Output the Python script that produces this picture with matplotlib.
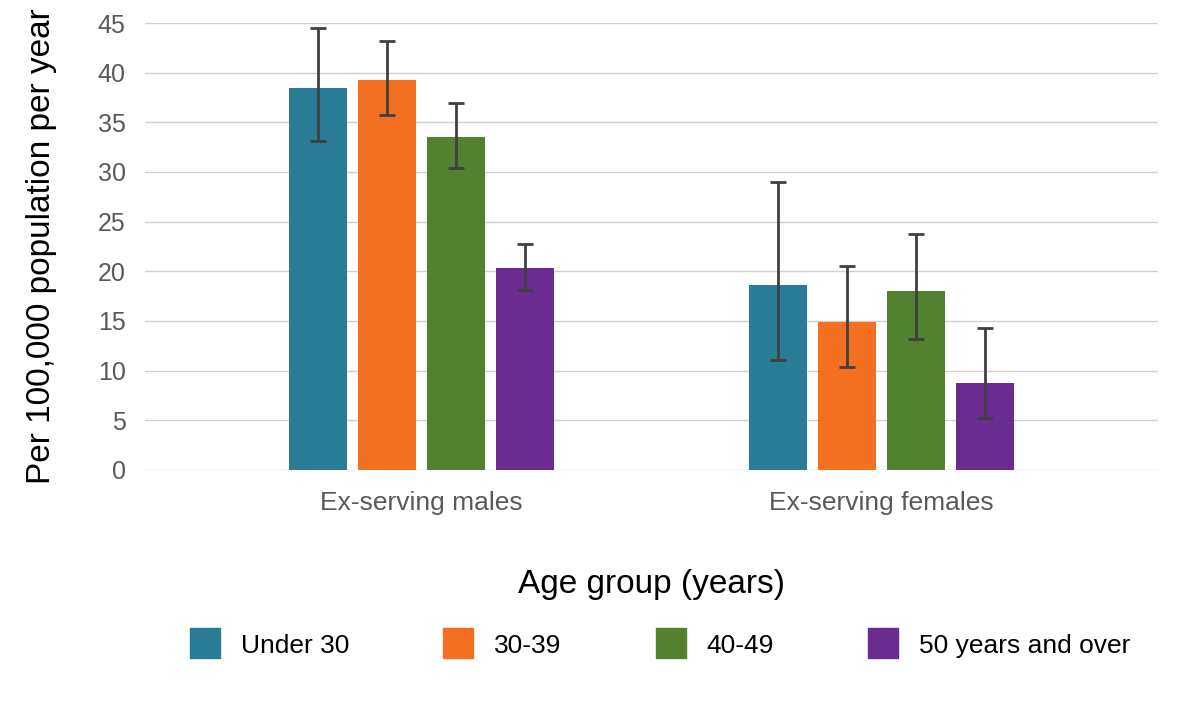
import matplotlib
matplotlib.use("Agg")
import matplotlib.pyplot as plt
from matplotlib.lines import Line2D
import numpy as np

plt.rcParams['font.family'] = ['Liberation Sans', 'DejaVu Sans']

groups = ["Ex-serving males", "Ex-serving females"]
series = ["Under 30", "30-39", "40-49", "50 years and over"]
colors = ["#2a7b96", "#f37021", "#52822f", "#6a2c91"]
values = {
    "Under 30": [38.5, 18.6],
    "30-39": [39.3, 14.9],
    "40-49": [33.5, 18.0],
    "50 years and over": [20.3, 8.8],
}
lower = {
    "Under 30": [33.1, 11.1],
    "30-39": [35.7, 10.4],
    "40-49": [30.4, 13.2],
    "50 years and over": [18.1, 5.2],
}
upper = {
    "Under 30": [44.5, 29.0],
    "30-39": [43.2, 20.5],
    "40-49": [36.9, 23.8],
    "50 years and over": [22.8, 14.3],
}
yticks = [0, 5, 10, 15, 20, 25, 30, 35, 40, 45]

fig = plt.figure(figsize=(11.81, 7.08), dpi=100)
ax = fig.add_axes([0.1228, 0.3362, 0.8577, 0.6313])

x = np.arange(len(groups))
pitch = 0.15
width = 0.126
for i, s in enumerate(series):
    xs = x + (i - 1.5) * pitch
    v = np.array(values[s])
    err = np.array([v - np.array(lower[s]), np.array(upper[s]) - v])
    ax.bar(xs, v, width=width, color=colors[i], zorder=2)
    ax.errorbar(xs, v, yerr=err, fmt='none', ecolor='#404040', elinewidth=2,
                capsize=5.5, capthick=2, zorder=3)

ax.set_xlim(-0.6, 1.6)
ax.set_ylim(0, 45)
ax.set_yticks(yticks)
ax.set_xticks(x)
ax.set_xticklabels(groups)
ax.yaxis.grid(True, color='#d0d0d0', linewidth=1, zorder=0)
ax.set_axisbelow(True)
for sp in ax.spines.values():
    sp.set_visible(False)
ax.tick_params(axis='both', length=0, colors='#595959')
ax.tick_params(axis='x', pad=15, labelsize=19)
ax.tick_params(axis='y', pad=14, labelsize=18)
ax.set_ylabel("Per 100,000 population per year", fontsize=24, color='black', labelpad=29)
ax.set_xlabel("Age group (years)", fontsize=24, color='black', labelpad=39)

handles = [Line2D([0], [0], marker='s', linestyle='none', markersize=21.6,
                  markerfacecolor=c, markeredgecolor=c) for c in colors]
fig.legend(handles, series, loc='center', bbox_to_anchor=(0.559, 0.088), ncol=4,
           frameon=False, fontsize=19, handlelength=1.14, handletextpad=0.8,
           columnspacing=3.56)

fig.savefig("out.png", dpi=100)
